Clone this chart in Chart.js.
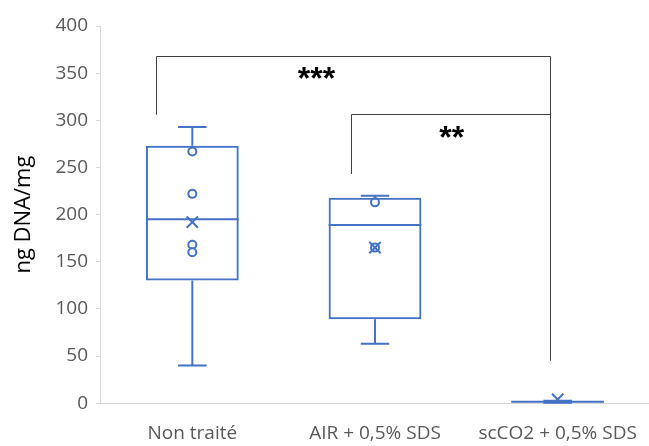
<!DOCTYPE html>
<html>
<head>
<meta charset="utf-8">
<script src="https://cdn.jsdelivr.net/npm/chart.js@4"></script>
<style>
  body { margin: 0; background: #fff; }
  #wrap { width: 649px; height: 446px; }
</style>
</head>
<body>
<div id="wrap"><canvas id="dnaChart"></canvas></div>
<script>
const categories = ['Non traité', 'AIR + 0,5% SDS', 'scCO2 + 0,5% SDS'];
const q1 = [130, 89, 1];
const q3 = [273, 218, 2];
const medians = [195, 189, 1.5];
const whiskerLow = [40, 63, 0.5];
const whiskerHigh = [293, 220, 2.5];
const means = [192, 165, 4];
const innerPoints = [[267, 222, 168, 160], [213, 165], []];

// significance brackets (x in category index units, y in ng DNA/mg)
const brackets = [
  { from: -0.2, to: 1.96, top: 368, leftEnd: 306, rightEnd: 45, label: '***', labelX: 0.68, labelY: 343 },
  { from: 0.87, to: 1.96, top: 307, leftEnd: 243, rightEnd: 307, label: '**', labelX: 1.42, labelY: 280 }
];

const blue = '#4472c4';

const boxExtras = {
  id: 'boxExtras',
  afterDatasetsDraw(chart) {
    const { ctx, scales: { x, y } } = chart;
    ctx.save();
    // medians + whiskers
    ctx.strokeStyle = blue;
    ctx.lineWidth = 2;
    const half = 0.254, cap = 0.078;
    categories.forEach((c, i) => {
      const cx = x.getPixelForValue(i);
      const w = x.getPixelForValue(i + half) - cx;
      const cw = x.getPixelForValue(i + cap) - cx;
      ctx.beginPath();
      ctx.moveTo(cx - w, y.getPixelForValue(medians[i]));
      ctx.lineTo(cx + w, y.getPixelForValue(medians[i]));
      // upper whisker
      ctx.moveTo(cx, y.getPixelForValue(q3[i]));
      ctx.lineTo(cx, y.getPixelForValue(whiskerHigh[i]));
      ctx.moveTo(cx - cw, y.getPixelForValue(whiskerHigh[i]));
      ctx.lineTo(cx + cw, y.getPixelForValue(whiskerHigh[i]));
      // lower whisker
      ctx.moveTo(cx, y.getPixelForValue(q1[i]));
      ctx.lineTo(cx, y.getPixelForValue(whiskerLow[i]));
      ctx.moveTo(cx - cw, y.getPixelForValue(whiskerLow[i]));
      ctx.lineTo(cx + cw, y.getPixelForValue(whiskerLow[i]));
      ctx.stroke();
    });
    // brackets
    ctx.strokeStyle = '#404040';
    ctx.lineWidth = 1;
    ctx.fillStyle = '#000';
    ctx.font = 'bold 32px "Liberation Sans", Arial, sans-serif';
    ctx.textAlign = 'center';
    ctx.textBaseline = 'middle';
    brackets.forEach(b => {
      const x1 = Math.round(x.getPixelForValue(b.from)) + 0.5;
      const x2 = Math.round(x.getPixelForValue(b.to)) + 0.5;
      const yt = Math.round(y.getPixelForValue(b.top)) + 0.5;
      ctx.beginPath();
      ctx.moveTo(x1, y.getPixelForValue(b.leftEnd));
      ctx.lineTo(x1, yt);
      ctx.lineTo(x2, yt);
      ctx.lineTo(x2, y.getPixelForValue(b.rightEnd));
      ctx.stroke();
      ctx.fillText(b.label, x.getPixelForValue(b.labelX), y.getPixelForValue(b.labelY));
    });
    ctx.restore();
  }
};

const pointData = [];
innerPoints.forEach((arr, i) => arr.forEach(v => pointData.push({ x: categories[i], y: v })));

const ctx = document.getElementById('dnaChart').getContext('2d');
const dnaChart = new Chart(ctx, {
  type: 'bar',
  data: {
    labels: categories,
    datasets: [
      {
        label: 'box',
        data: categories.map((c, i) => [q1[i], q3[i]]),
        backgroundColor: 'rgba(255,255,255,0)',
        borderColor: blue,
        borderWidth: 2,
        borderSkipped: false,
        barPercentage: 0.508,
        categoryPercentage: 1
      },
      {
        type: 'line',
        label: 'mean',
        data: categories.map((c, i) => ({ x: c, y: means[i] })),
        showLine: false,
        pointStyle: 'crossRot',
        pointRadius: 8,
        pointBorderWidth: 2,
        borderColor: blue,
        backgroundColor: blue
      },
      {
        type: 'line',
        label: 'points',
        data: pointData,
        showLine: false,
        pointStyle: 'circle',
        pointRadius: 4,
        pointBorderWidth: 2,
        borderColor: blue,
        backgroundColor: '#fff'
      }
    ]
  },
  options: {
    responsive: true,
    maintainAspectRatio: false,
    animation: false,
    layout: { autoPadding: false, padding: { top: 26, right: -11, left: 7, bottom: -10 } },
    plugins: { legend: { display: false }, tooltip: { enabled: false } },
    scales: {
      x: {
        grid: { display: false },
        border: { display: true, color: '#d9d9d9', width: 1 },
        ticks: { color: '#595959', font: { family: 'Open Sans', size: 19 }, padding: 11, maxRotation: 0 }
      },
      y: {
        min: 0,
        max: 400,
        ticks: { stepSize: 50, color: '#595959', font: { family: 'Open Sans', size: 19 }, padding: 8 },
        grid: { drawOnChartArea: false, drawTicks: true, tickLength: 5, color: '#d9d9d9' },
        border: { color: '#d9d9d9' },
        title: { display: true, text: 'ng DNA/mg', color: '#000', font: { family: 'Open Sans', size: 22 }, padding: { bottom: 10 } }
      }
    }
  },
  plugins: [boxExtras]
});
</script>
</body>
</html>
